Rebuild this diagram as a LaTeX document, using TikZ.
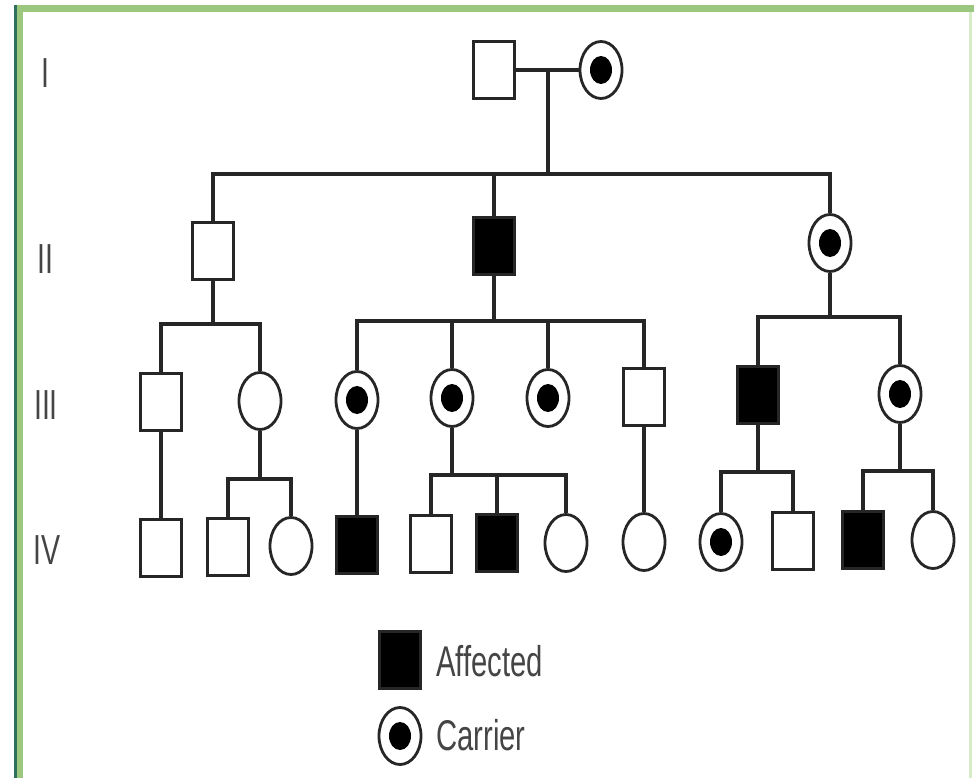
\documentclass[tikz,border=0pt]{standalone}
\usepackage{fontspec}
\setmainfont{Liberation Sans}[FakeStretch=0.68]
\usetikzlibrary{shapes.geometric}
\definecolor{bgreen}{HTML}{9CC77E}
\definecolor{dteal}{HTML}{2F6F5E}
\definecolor{lgreen}{HTML}{D6ECC8}
\definecolor{txt}{HTML}{454545}
\begin{document}
\begin{tikzpicture}[x=1pt,y=-1pt,
  male/.style={draw=black!85, rectangle, line width=3pt, minimum width=41pt, minimum height=57pt, inner sep=0pt},
  aff/.style={male, fill=black},
  fem/.style={draw=black!85, ellipse, line width=2.8pt, minimum width=42pt, minimum height=57pt, inner sep=0pt},
  carrier/.style={fem, path picture={\fill (path picture bounding box.center) ellipse [x radius=11pt, y radius=14pt];}},
  link/.style={line width=3.2pt, draw=black!85},
  gen/.style={text=txt, font=\fontsize{42}{42}\selectfont, anchor=center, inner sep=0pt},
  legtext/.style={text=txt, font=\fontsize{43}{43}\selectfont, anchor=base west, inner sep=0pt}
]
\useasboundingbox (0,0) rectangle (974,778);
\fill[white] (0,0) rectangle (974,778);
\fill[bgreen] (14,5) rectangle (974,12);
\fill[bgreen] (14,5) rectangle (23,778);
\fill[dteal] (14,5) rectangle (16.5,778);
\fill[lgreen] (969,12) rectangle (972,778);

% generation labels
\node[gen] (g1) at (45,73) {I};
\node[gen] (g2) at (45,259) {II};
\node[gen] (g3) at (46,405) {III};
\node[gen] (g4) at (47,550) {IV};

% generation I
\node[male] (i1) at (494,70) {};
\node[carrier] (i2) at (601,70) {};
\draw[link] (i1.east) -- (i2.west);
\coordinate (m1) at (548,70);
\coordinate (s1) at (548,174);
\draw[link] (m1) -- (s1);

% generation II
\node[male] (ii1) at (213,251) {};
\node[aff] (ii2) at (494,246) {};
\node[carrier] (ii3) at (830,243) {};
\draw[link] (ii1.north) |- (s1) -| (ii3.north);
\draw[link] (ii2.north) -- (ii2.north |- s1);

% generation III
\node[male] (iii1) at (161,402) {};
\node[fem] (iii2) at (260,401) {};
\node[carrier] (iii3) at (357,400) {};
\node[carrier] (iii4) at (452,398) {};
\node[carrier] (iii5) at (548,398) {};
\node[male] (iii6) at (644,397) {};
\node[aff] (iii7) at (758,395) {};
\node[carrier] (iii8) at (900,394) {};

\coordinate (s2) at (213,324);
\draw[link] (ii1.south) -- (s2);
\draw[link] (iii1.north) |- (s2) -| (iii2.north);

\coordinate (s3) at (494,321);
\draw[link] (ii2.south) -- (s3);
\draw[link] (iii3.north) |- (s3) -| (iii6.north);
\draw[link] (iii4.north) -- (iii4.north |- s3);
\draw[link] (iii5.north) -- (iii5.north |- s3);

\coordinate (s4) at (830,317);
\draw[link] (ii3.south) -- (s4);
\draw[link] (iii7.north) |- (s4) -| (iii8.north);

% generation IV
\node[male] (iv1) at (161,548) {};
\node[male] (iv2) at (228,547) {};
\node[fem] (iv3) at (291,546) {};
\node[aff] (iv4) at (357,545) {};
\node[male] (iv5) at (431,544) {};
\node[aff] (iv6) at (497,543) {};
\node[fem] (iv7) at (566,543) {};
\node[fem] (iv8) at (644,542) {};
\node[carrier] (iv9) at (721,542) {};
\node[male] (iv10) at (793,541) {};
\node[aff] (iv11) at (863,540) {};
\node[fem] (iv12) at (933,540) {};

\draw[link] (iii1.south) -- (iv1.north);
\coordinate (s5) at (260,479);
\draw[link] (iii2.south) -- (s5);
\draw[link] (iv2.north) |- (s5) -| (iv3.north);
\draw[link] (iii3.south) -- (iv4.north);
\coordinate (s6) at (452,475);
\draw[link] (iii4.south) -- (s6);
\draw[link] (iv5.north) |- (s6) -| (iv7.north);
\draw[link] (iv6.north) -- (iv6.north |- s6);
\draw[link] (iii6.south) -- (iv8.north);
\coordinate (s7) at (758,472);
\draw[link] (iii7.south) -- (s7);
\draw[link] (iv9.north) |- (s7) -| (iv10.north);
\coordinate (s8) at (900,471);
\draw[link] (iii8.south) -- (s8);
\draw[link] (iv11.north) |- (s8) -| (iv12.north);

% legend
\node[aff] (lg1) at (400,660) {};
\node[carrier] (lg2) at (400,736) {};
\node[legtext] (lt1) at (436,676) {Affected};
\node[legtext] (lt2) at (436,750) {Carrier};
\end{tikzpicture}
\end{document}
